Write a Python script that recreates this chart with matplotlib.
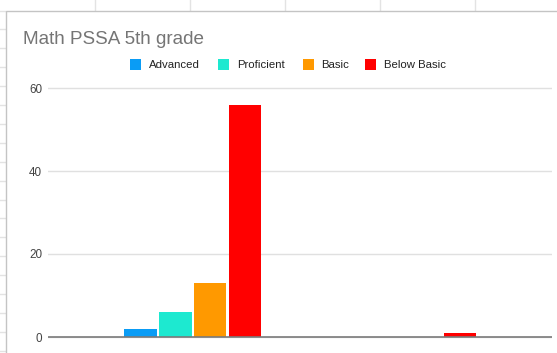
import matplotlib
matplotlib.use("Agg")
import numpy as np
import matplotlib.pyplot as plt
from matplotlib.lines import Line2D
from matplotlib.patches import Rectangle

plt.rcParams["font.family"] = ["Liberation Sans", "DejaVu Sans"]

title = "Math PSSA 5th grade"
groups = ["", ""]
series = ["Advanced", "Proficient", "Basic", "Below Basic"]
advanced = [2, 0]
proficient = [6, 0]
basic = [13, 0]
below_basic = [56, 1]
colors = ["#0a9cf5", "#1de9d0", "#ff9900", "#ff0000"]
yticks = [0, 20, 40, 60]

W, H = 557, 353


def fx(px):
    return px / W


def fy(py):
    return 1 - py / H


fig = plt.figure(figsize=(W / 100, H / 100), dpi=100)

# spreadsheet cells peeking out around the chart
for k in range(1, 6):
    fig.add_artist(Line2D([fx(95 * k)] * 2, [fy(0), fy(11)], color="#e3e3e3",
                          lw=1, zorder=-3))
for k in range(0, 19):
    y = 10.5 + 18.9 * k
    fig.add_artist(Line2D([fx(0), fx(5)], [fy(y)] * 2, color="#e3e3e3",
                          lw=1, zorder=-3))

# chart card
fig.add_artist(Rectangle((fx(5.5), fy(H + 10)), fx(W), fy(11) - fy(H + 10),
                         facecolor="white", edgecolor="#c4c4c4", lw=1, zorder=-2))

fig.text(fx(23), fy(44), title, fontsize=13.6, color="#757575", va="baseline")

# legend, drawn by hand
sq_x = [130.4, 218.1, 302.7, 364.8]
txt_x = [149.2, 237.3, 321.5, 383.7]
for name, c, sx, tx in zip(series, colors, sq_x, txt_x):
    fig.add_artist(Rectangle((fx(sx), fy(69.5)), fx(11), fy(58.5) - fy(69.5),
                             facecolor=c, edgecolor="none", zorder=1))
    fig.text(fx(tx), fy(64), name, fontsize=8.2, color="#222222", va="center_baseline")

# plot area: 60 gridline at y=88px, baseline at y=337px
ppu = (337 - 88) / 60
top_px, bot_px = 80, 345
ax = fig.add_axes([fx(48), fy(bot_px), fx(504), (bot_px - top_px) / H])
ax.set_ylim(-(bot_px - 337) / ppu, 60 + (88 - top_px) / ppu)
ax.set_xlim(-0.675, 1.674)

x = np.arange(len(groups))
step = 0.1628
width = 0.151
for i, (vals, c) in enumerate(zip([advanced, proficient, basic, below_basic], colors)):
    ax.bar(x + (i - 1.5) * step, vals, width=width, color=c, linewidth=0, zorder=3)

ax.axhline(0, color="#7a7a7a", lw=1.2, zorder=4)
ax.set_yticks(yticks)
ax.set_xticks(x)
ax.set_xticklabels(groups)
ax.yaxis.grid(True, color="#e0e0e0", lw=1)
ax.set_axisbelow(True)
for s in ax.spines.values():
    s.set_visible(False)
ax.tick_params(axis="y", length=0, pad=4.3, labelsize=8.4, labelcolor="#444444")
ax.tick_params(axis="x", length=0, labelbottom=False)
ax.set_facecolor("none")

fig.savefig("out.png", dpi=100)
